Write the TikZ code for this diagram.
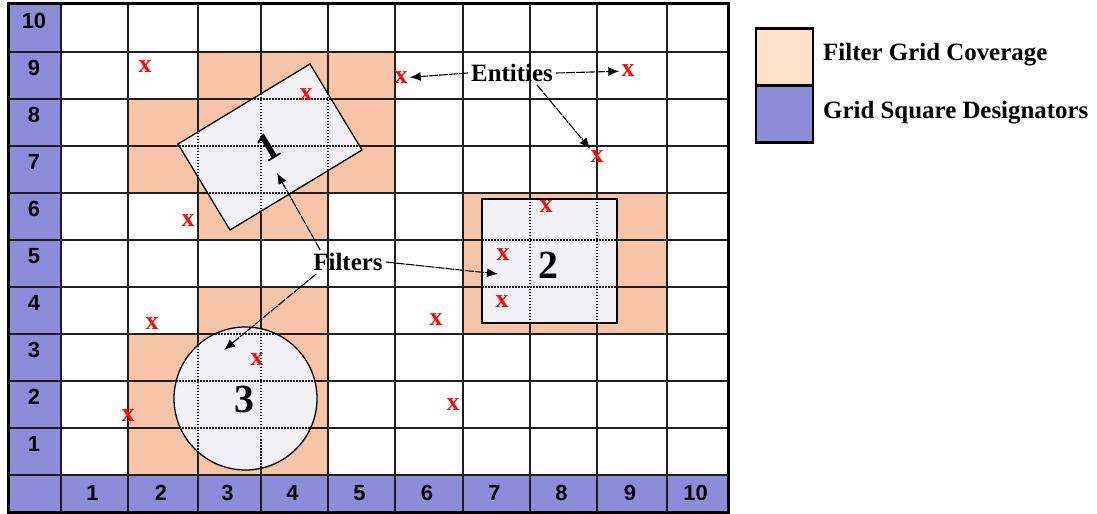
\documentclass[tikz,border=0pt]{standalone}
\usepackage{fontspec}
\setmainfont{Liberation Serif}
\setsansfont{Liberation Sans}
\usetikzlibrary{arrows.meta,calc}
\definecolor{coverfill}{RGB}{248,196,168}
\definecolor{legendcover}{RGB}{255,224,200}
\definecolor{desigfill}{RGB}{140,140,216}
\definecolor{filterfill}{RGB}{241,241,246}
\definecolor{gridline}{RGB}{30,30,30}
\definecolor{entityred}{RGB}{250,10,10}

\begin{document}
\begin{tikzpicture}[
    x=1bp, y=-1bp,
    >={Latex[length=11bp, width=9bp]},
    entitymark/.style={text=entityred, font=\fontsize{26}{26}\selectfont\bfseries, inner sep=2bp},
    filterlabel/.style={font=\fontsize{40}{40}\selectfont\bfseries, inner sep=0pt},
    callout/.style={font=\fontsize{25}{25}\selectfont\bfseries, inner sep=3bp},
    desiglabel/.style={font=\sffamily\bfseries\fontsize{22}{22}\selectfont, inner sep=0pt},
    legendtext/.style={font=\fontsize{25}{25}\selectfont\bfseries, inner sep=0pt, anchor=west},
    swatch/.style={draw, line width=2.5bp, minimum width=57bp, minimum height=57bp, inner sep=0pt},
    pointer/.style={->, line width=1.1bp, dash pattern=on 9bp off 1bp},
    filteredge/.style={line width=1.3bp}
]

% Canvas
\fill[white] (0,0) rectangle (1097,514);
\useasboundingbox (0,0) rectangle (1097,514);

% Grid square designator strips
\fill[desigfill] (8,4) rectangle (61,475);
\fill[desigfill] (8,475) rectangle (728,512);

% Filter grid coverage
\fill[coverfill] (198,52) rectangle (395,99);
\fill[coverfill] (128,99) rectangle (395,193);
\fill[coverfill] (198,193) rectangle (328,240);
\fill[coverfill] (463,193) rectangle (667,334);
\fill[coverfill] (198,287) rectangle (328,334);
\fill[coverfill] (128,334) rectangle (328,475);

% Grid
\foreach \gx in {61,128,198,261,328,395,463,530,597,667}
    \draw[gridline, line width=1.5bp] (\gx,4) -- (\gx,512);
\foreach \gy in {52,99,146,193,240,287,334,381,428,475}
    \draw[gridline, line width=1.5bp] (8,\gy) -- (728,\gy);
\draw[line width=3bp] (8,4) rectangle (728,512);

% Filters 1, 2 and 3
\fill[filterfill] (310,64) -- (362,150) -- (230,230) -- (178,144) -- cycle;
\fill[filterfill] (482,199) rectangle (617,323);
\fill[filterfill] (245.5,398.5) circle[radius=71.5bp];

% dotted grid seen through the filters
\begin{scope}
    \clip (310,64) -- (362,150) -- (230,230) -- (178,144) -- cycle
          (482,199) rectangle (617,323)
          (245.5,398.5) circle[radius=71.5bp];
    \foreach \gx in {128,198,261,328,395,463,530,597,667}
        \draw[gridline, line width=1.5bp, dash pattern=on 1.5bp off 1.5bp] (\gx,4) -- (\gx,512);
    \foreach \gy in {52,99,146,193,240,287,334,381,428,475}
        \draw[gridline, line width=1.5bp, dash pattern=on 1.5bp off 1.5bp] (8,\gy) -- (728,\gy);
\end{scope}

\draw[filteredge] (310,64) -- (362,150) -- (230,230) -- (178,144) -- cycle;
\draw[filteredge] (482,199) rectangle (617,323);
\draw[filteredge] (245.5,398.5) circle[radius=71.5bp];

\node[filterlabel, rotate=31] (labA) at (268,147) {1};
\node[filterlabel] (labB) at (548,265) {2};
\node[filterlabel] (labC) at (244,400) {3};

% Designator numbers
\foreach \r in {1,...,10}
    \node[desiglabel] (row\r) at (34,{491-47*\r}) {\r};
\foreach \c/\xa/\xb in {1/61/128,2/128/198,3/198/261,4/261/328,5/328/395,6/395/463,7/463/530,8/530/597,9/597/667,10/667/728}
    \node[desiglabel] (col\c) at ({(\xa+\xb)/2-2},493) {\c};

% Entities
\node[entitymark] (entA) at (145,67) {x};
\node[entitymark] (entB) at (306,95) {x};
\node[entitymark] (entC) at (401,78) {x};
\node[entitymark] (entD) at (628,71) {x};
\node[entitymark] (entE) at (597,157) {x};
\node[entitymark] (entF) at (188,221) {x};
\node[entitymark] (entG) at (546,207) {x};
\node[entitymark] (entH) at (503,255) {x};
\node[entitymark] (entI) at (502,302) {x};
\node[entitymark] (entJ) at (152,324) {x};
\node[entitymark] (entK) at (436,320) {x};
\node[entitymark] (entL) at (257,360) {x};
\node[entitymark] (entM) at (128,416) {x};
\node[entitymark] (entN) at (453,405) {x};

% Callouts
\node[callout] (ents) at (512,73) {Entities};
\draw[pointer] (ents.west) -- (entC);
\draw[pointer] (ents.east) -- (entD);
\draw[pointer] ($(ents.south)+(25,0)$) -- (entE);

\node[callout] (filts) at (348,262) {Filters};
\coordinate (tipA) at (277,173);
\coordinate (tipB) at (498,274);
\coordinate (tipC) at (224,350);
\draw[pointer] ($(filts.north west)+(10,0)$) -- (tipA);
\draw[pointer] (filts.east) -- (tipB);
\draw[pointer] ($(filts.south west)+(6,0)$) -- (tipC);

% Legend
\node[swatch, fill=legendcover] (keyCover) at (784.5,57) {};
\node[swatch, fill=desigfill] (keyDesig) at (784.5,114) {};
\node[legendtext] (txtCover) at (823,55) {Filter Grid Coverage};
\node[legendtext] (txtDesig) at (823,113) {Grid Square Designators};

\end{tikzpicture}
\end{document}
